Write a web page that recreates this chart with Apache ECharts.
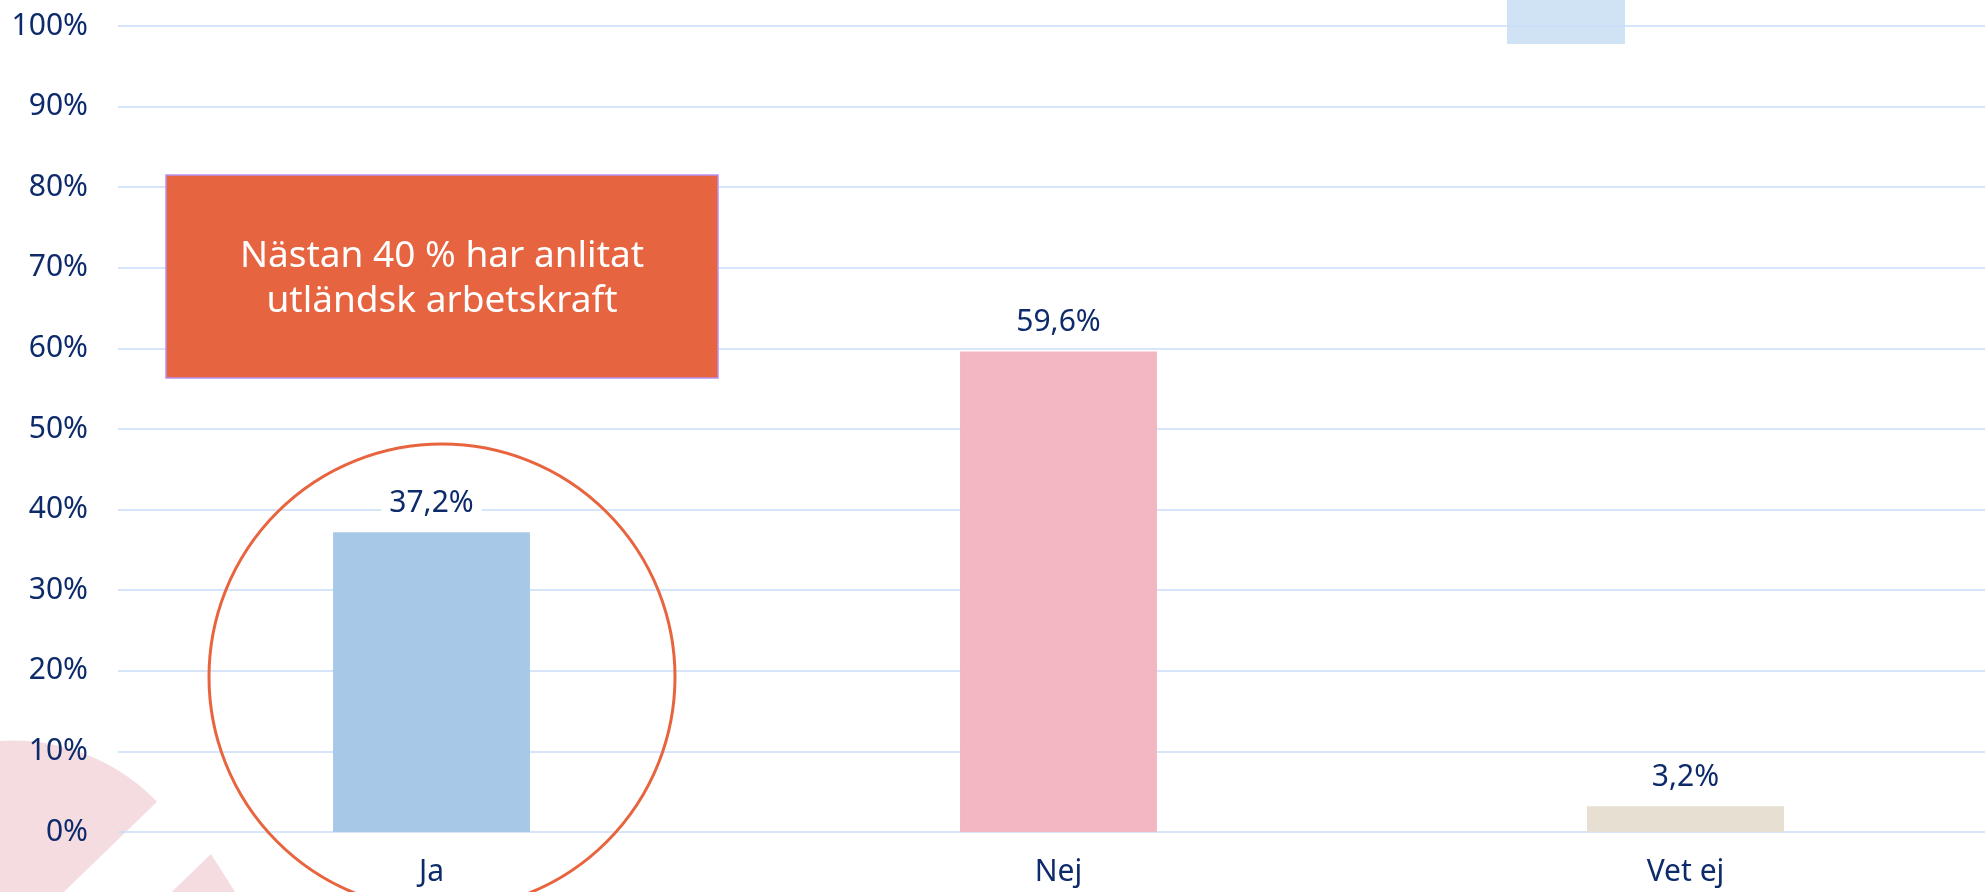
<!DOCTYPE html>
<html>
<head>
<meta charset="utf-8">
<script src="https://cdn.jsdelivr.net/npm/echarts@6/dist/echarts.min.js"></script>
<style>
html,body{margin:0;padding:0;background:#ffffff;}
#chart{width:1985px;height:892px;}
</style>
</head>
<body>
<div id="chart"></div>
<script>
// ---- data ----
var categories = ['Ja', 'Nej', 'Vet ej'];
var values = [37.2, 59.6, 3.2];
var barColors = ['#A7C8E7', '#F2B7C0', '#E6DFD2'];
var yTicks = [0, 10, 20, 30, 40, 50, 60, 70, 80, 90, 100];
var calloutText = 'Nästan 40 % har anlitat\nutländsk arbetskraft';

var FONT = 'Noto Sans';
var NAVY = '#0D2B6B';

var chart = echarts.init(document.getElementById('chart'), null, {renderer: 'canvas'});

var option = {
  backgroundColor: '#ffffff',
  animation: false,
  textStyle: {fontFamily: FONT},
  grid: {
    left: 118, right: -14, top: 26, bottom: 60,
    containLabel: false,
    outerBoundsMode: 'none'
  },
  xAxis: {
    type: 'category',
    data: categories,
    axisLine: {show: false},
    axisTick: {show: false},
    axisLabel: {color: NAVY, fontSize: 30, fontFamily: FONT, margin: 25}
  },
  yAxis: {
    type: 'value',
    min: yTicks[0],
    max: yTicks[yTicks.length - 1],
    interval: yTicks[1] - yTicks[0],
    axisLine: {show: false},
    axisTick: {show: false},
    axisLabel: {
      color: NAVY, fontSize: 30, fontFamily: FONT, margin: 30,
      formatter: function (v) { return v + '%'; }
    },
    splitLine: {show: true, lineStyle: {color: '#C9DCF8', width: 1.5}}
  },
  series: [{
    type: 'bar',
    barWidth: '31.4%',
    data: values.map(function (v, i) {
      return {value: v, itemStyle: {color: barColors[i]}};
    }),
    label: {
      show: true,
      position: 'top',
      distance: 12,
      color: NAVY,
      fontSize: 30,
      fontFamily: FONT,
      backgroundColor: '#ffffff',
      padding: [2, 8],
      formatter: function (p) { return p.value.toFixed(1).replace('.', ',') + '%'; }
    },
    z: 3
  }],
  graphic: [
    // background decorations
    {
      type: 'rect', z: -10, silent: true,
      shape: {x: 1507, y: 0, width: 118, height: 44},
      style: {fill: '#CFE3F4'}
    },
    {
      type: 'sector', z: -10, silent: true,
      shape: {cx: 12.5, cy: 941.5, r0: 0, r: 201,
              startAngle: -130 * Math.PI / 180, endAngle: -44 * Math.PI / 180, clockwise: true},
      style: {fill: '#F5DCE1'}
    },
    {
      type: 'polygon', z: -10, silent: true,
      shape: {points: [[211, 854], [149, 914], [249, 914]]},
      style: {fill: '#F5DCE1'}
    },
    // callout box
    {
      type: 'rect', z: 50,
      shape: {x: 166, y: 175, width: 552, height: 203},
      style: {fill: '#E6643F', stroke: '#B990F2', lineWidth: 1.5}
    },
    {
      type: 'text', z: 51,
      x: 442, y: 279,
      style: {
        text: calloutText,
        fill: '#ffffff',
        font: '37px "Noto Sans"',
        lineHeight: 45,
        align: 'center',
        verticalAlign: 'middle'
      }
    },
    // highlight circle
    {
      type: 'circle', z: 50,
      shape: {cx: 442, cy: 677, r: 233},
      style: {fill: 'none', stroke: '#E8643E', lineWidth: 3}
    }
  ]
};

chart.setOption(option);
</script>
</body>
</html>
